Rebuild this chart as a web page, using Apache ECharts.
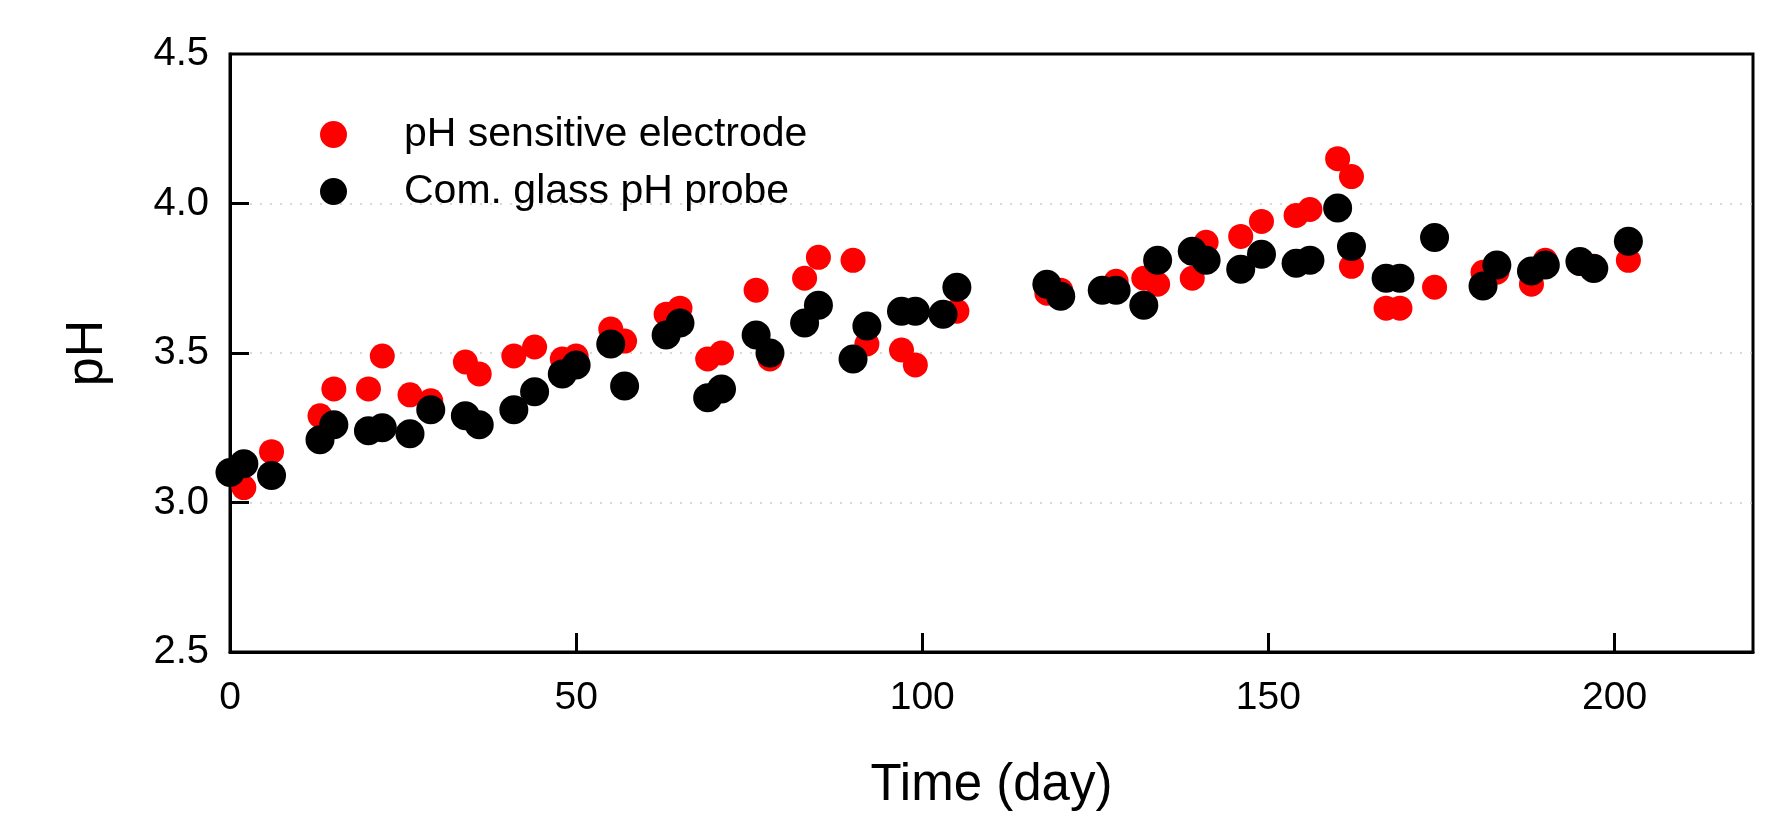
<!DOCTYPE html>
<html>
<head>
<meta charset="utf-8">
<script src="https://cdn.jsdelivr.net/npm/echarts@6/dist/echarts.min.js"></script>
<style>
html,body{margin:0;padding:0;background:#fff;}
#chart{width:1788px;height:816px;}
</style>
</head>
<body>
<div id="chart"></div>
<script>
const seriesNames = ['pH sensitive electrode', 'Com. glass pH probe'];

const redDays = [2, 6, 13, 15, 20, 22, 26, 29, 34, 36, 41, 44, 48, 50, 55, 57, 63, 65, 69, 71, 76, 78, 83, 85, 90, 92, 97, 99, 105, 118, 120, 128, 132, 134, 139, 141, 146, 149, 154, 156, 160, 162, 162, 167, 169, 174, 181, 183, 188, 190, 195, 197, 202];
const redPH = [3.05, 3.17, 3.29, 3.38, 3.38, 3.49, 3.36, 3.34, 3.47, 3.43, 3.49, 3.52, 3.48, 3.49, 3.58, 3.54, 3.63, 3.65, 3.48, 3.50, 3.71, 3.48, 3.75, 3.82, 3.81, 3.53, 3.51, 3.46, 3.64, 3.70, 3.71, 3.74, 3.75, 3.73, 3.75, 3.87, 3.89, 3.94, 3.96, 3.98, 4.15, 4.09, 3.79, 3.65, 3.65, 3.72, 3.77, 3.77, 3.73, 3.81, 3.80, 3.79, 3.81];

const blackDays = [0, 2, 6, 13, 15, 20, 22, 26, 29, 34, 36, 41, 44, 48, 50, 55, 57, 63, 65, 69, 71, 76, 78, 83, 85, 90, 92, 97, 99, 103, 105, 118, 120, 126, 128, 132, 134, 139, 141, 146, 149, 154, 156, 160, 162, 167, 169, 174, 181, 183, 188, 190, 195, 197, 202];
const blackPH = [3.10, 3.13, 3.09, 3.21, 3.26, 3.24, 3.25, 3.23, 3.31, 3.29, 3.26, 3.31, 3.37, 3.43, 3.46, 3.53, 3.39, 3.56, 3.60, 3.35, 3.38, 3.56, 3.50, 3.60, 3.66, 3.48, 3.59, 3.64, 3.64, 3.63, 3.72, 3.73, 3.69, 3.71, 3.71, 3.66, 3.81, 3.84, 3.81, 3.78, 3.83, 3.80, 3.81, 3.985, 3.856, 3.75, 3.75, 3.886, 3.724, 3.794, 3.774, 3.794, 3.806, 3.783, 3.874];

const xTicks = [0, 50, 100, 150, 200];
const yTicks = [2.5, 3.0, 3.5, 4.0, 4.5];

const FONT = '"Liberation Sans", Arial, sans-serif';
const redData = redDays.map((d, i) => [d, redPH[i]]);
const blackData = blackDays.map((d, i) => [d, blackPH[i]]);

const chart = echarts.init(document.getElementById('chart'), null, {renderer: 'canvas'});
chart.setOption({
  animation: false,
  backgroundColor: '#ffffff',
  grid: {
    left: 230, right: 35, top: 54, bottom: 161,
    show: true, borderColor: '#000', borderWidth: 3, backgroundColor: 'transparent'
  },
  legend: {
    orient: 'vertical',
    left: 315, top: 109,
    itemWidth: 27, itemHeight: 27,
    itemGap: 16,
    icon: 'circle',
    data: seriesNames,
    textStyle: {fontFamily: FONT, fontSize: 41, color: '#000', padding: [0, 0, 0, 52], lineHeight: 41}
  },
  xAxis: {
    type: 'value', min: 0, max: 220, interval: 50,
    name: 'Time (day)', nameLocation: 'middle', nameGap: 108,
    nameTextStyle: {fontFamily: FONT, fontSize: 51, color: '#000'},
    axisLine: {onZero: false, lineStyle: {color: '#000', width: 3}},
    axisTick: {inside: true, length: 19, lineStyle: {color: '#000', width: 3}, customValues: xTicks.slice(1)},
    axisLabel: {fontFamily: FONT, fontSize: 39, color: '#000', margin: 27, customValues: xTicks},
    splitLine: {show: false}
  },
  yAxis: {
    type: 'value', min: 2.5, max: 4.5, interval: 0.5,
    name: 'pH', nameLocation: 'middle', nameGap: 116, nameRotate: 90,
    nameTextStyle: {fontFamily: FONT, fontSize: 52, color: '#000'},
    axisLine: {onZero: false, lineStyle: {color: '#000', width: 3}},
    axisTick: {inside: true, length: 19, lineStyle: {color: '#000', width: 3}, customValues: yTicks.slice(1, -1)},
    axisLabel: {fontFamily: FONT, fontSize: 40, color: '#000', margin: 21, customValues: yTicks,
      formatter: v => Number(v).toFixed(1)},
    splitLine: {show: true, lineStyle: {color: '#cccccc', width: 1.5, type: [2, 8]}}
  },
  series: [
    {
      name: seriesNames[0], type: 'scatter', data: redData,
      symbol: 'circle', symbolSize: 25,
      itemStyle: {color: '#ff0000', opacity: 1},
      z: 2
    },
    {
      name: seriesNames[1], type: 'scatter', data: blackData,
      symbol: 'circle', symbolSize: 29,
      itemStyle: {color: '#000000', opacity: 1},
      z: 3
    }
  ]
});
</script>
</body>
</html>
